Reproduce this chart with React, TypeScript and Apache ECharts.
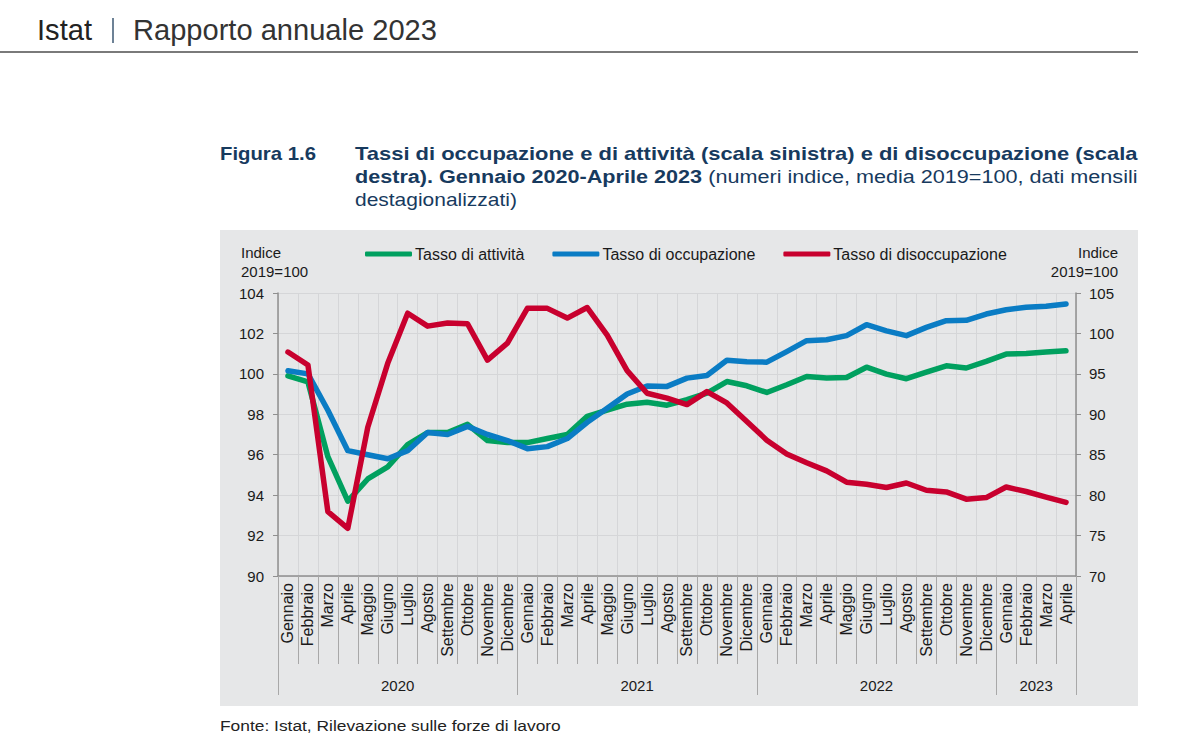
import React, { useEffect, useRef } from 'react';
import * as echarts from 'echarts';

// ---------- DATA ----------
const years = ['2020', '2021', '2022', '2023'];
const monthNames = ['Gennaio', 'Febbraio', 'Marzo', 'Aprile', 'Maggio', 'Giugno', 'Luglio', 'Agosto', 'Settembre', 'Ottobre', 'Novembre', 'Dicembre'];
const monthsPerYear = [12, 12, 12, 4];

// Tasso di attività (scala sinistra)
const tassoAttivita = [
  99.9, 99.6, 95.9, 93.7, 94.8, 95.4, 96.5, 97.1, 97.1, 97.5, 96.7, 96.6,
  96.6, 96.8, 97.0, 97.9, 98.2, 98.5, 98.6, 98.45, 98.72, 99.05, 99.62, 99.41,
  99.08, 99.46, 99.87, 99.79, 99.82, 100.33, 99.99, 99.76, 100.09, 100.4, 100.29, 100.62,
  100.98, 101.01, 101.08, 101.14,
];
// Tasso di occupazione (scala sinistra)
const tassoOccupazione = [
  100.15, 100.0, 98.2, 96.2, 96.0, 95.8, 96.2, 97.1, 97.0, 97.4, 97.0, 96.7,
  96.3, 96.4, 96.8, 97.6, 98.3, 99.0, 99.4, 99.38, 99.79, 99.92, 100.67, 100.6,
  100.58, 101.1, 101.64, 101.69, 101.89, 102.43, 102.13, 101.89, 102.3, 102.63, 102.65, 102.96,
  103.17, 103.29, 103.34, 103.46,
];
// Tasso di disoccupazione (scala destra)
const tassoDisoccupazione = [
  97.7, 96.1, 77.95, 75.9, 88.4, 96.3, 102.5, 100.9, 101.3, 101.2, 96.7, 98.8,
  103.1, 103.1, 101.9, 103.2, 99.8, 95.4, 92.6, 92.0, 91.2, 92.8, 91.4, 89.1,
  86.8, 85.1, 84.0, 83.0, 81.6, 81.35, 80.95, 81.5, 80.6, 80.4, 79.5, 79.7,
  81.0, 80.45, 79.75, 79.1,
];

const seriesNames = ['Tasso di attività', 'Tasso di occupazione', 'Tasso di disoccupazione'];
const seriesColors = ['#00a05f', '#0a7cc4', '#c8002e'];

const leftAxis = { min: 90, max: 104, interval: 2 };
const rightAxis = { min: 70, max: 105, interval: 5 };

const axisNameLines = ['Indice', '2019=100'];
const headerBrand = 'Istat';
const headerTitle = 'Rapporto annuale 2023';
const figureLabel = 'Figura 1.6';
const titleLine1 = 'Tassi di occupazione e di attività (scala sinistra) e di disoccupazione (scala';
const titleLine2Bold = 'destra). Gennaio 2020-Aprile 2023';
const titleLine2Normal = ' (numeri indice, media 2019=100, dati mensili';
const titleLine3 = 'destagionalizzati)';
const sourceNote = 'Fonte: Istat, Rilevazione sulle forze di lavoro';

// ---------- derived ----------
const categories: string[] = [];
const yearStartIdx: number[] = [];
const yearLabelAt: Record<number, string> = {};
years.forEach((y, yi) => {
  yearStartIdx.push(categories.length);
  yearLabelAt[categories.length + monthsPerYear[yi] / 2] = y;
  for (let m = 0; m < monthsPerYear[yi]; m++) categories.push(y + '|' + monthNames[m]);
});

const FONT = '"Liberation Sans", Arial, Helvetica, sans-serif';
const TEXT = '#1a1a1a';
const NAVY = '#173a5e';

let measureCtx: CanvasRenderingContext2D | null = null;
function textWidth(text: string, size: number, weight: string): number {
  if (!measureCtx) measureCtx = document.createElement('canvas').getContext('2d');
  if (!measureCtx) return text.length * size * 0.5;
  measureCtx.font = `${weight} ${size}px ${FONT}`;
  return measureCtx.measureText(text).width;
}

function fitText(text: string, size: number, weight: string, x: number, y: number, width: number, color: string) {
  const w = textWidth(text, size, weight);
  return {
    type: 'text', x, y, scaleX: width / w, silent: true,
    style: { text, x: 0, y: 0, fontSize: size, fontWeight: weight, fontFamily: FONT, fill: color, align: 'left', verticalAlign: 'middle' },
  };
}

function mixedLine(parts: { t: string; w: string }[], size: number, x0: number, x1: number, y: number, color: string) {
  const widths = parts.map((p) => textWidth(p.t, size, p.w));
  const total = widths.reduce((a, b) => a + b, 0);
  const sx = (x1 - x0) / total;
  let x = x0;
  return parts.map((p, i) => {
    const el = {
      type: 'text', x, y, scaleX: sx, silent: true,
      style: { text: p.t, x: 0, y: 0, fontSize: size, fontWeight: p.w, fontFamily: FONT, fill: color, align: 'left', verticalAlign: 'middle' },
    };
    x += widths[i] * sx;
    return el;
  });
}

function plainText(text: string, x: number, y: number, size: number, align: string, color: string) {
  return {
    type: 'text', x, y, silent: true,
    style: { text, x: 0, y: 0, fontSize: size, fontFamily: FONT, fill: color, align, verticalAlign: 'middle' },
  };
}

function buildOption() {
  const graphics: any[] = [
    { type: 'rect', z: -100, silent: true, shape: { x: 220, y: 230, width: 918, height: 476 }, style: { fill: '#e6e7e8' } },
    fitText(headerBrand, 29, 'normal', 37, 30, 55, '#222222'),
    { type: 'line', silent: true, shape: { x1: 113, y1: 18, x2: 113, y2: 43 }, style: { stroke: '#3d5873', lineWidth: 1.5 } },
    fitText(headerTitle, 29, 'normal', 133, 30, 304, '#333333'),
    { type: 'line', silent: true, shape: { x1: 0, y1: 52, x2: 1138, y2: 52 }, style: { stroke: '#7a7a7a', lineWidth: 2 } },
    fitText(figureLabel, 18, 'bold', 220, 154, 96, NAVY),
    ...mixedLine([{ t: titleLine1, w: 'bold' }], 18, 355, 1138, 154, NAVY),
    ...mixedLine([{ t: titleLine2Bold, w: 'bold' }, { t: titleLine2Normal, w: 'normal' }], 18, 355, 1138, 177, NAVY),
    fitText(titleLine3, 18, 'normal', 355, 200, 162, NAVY),
    plainText(axisNameLines[0], 241, 252, 15, 'left', TEXT),
    plainText(axisNameLines[1], 241, 271, 15, 'left', TEXT),
    plainText(axisNameLines[0], 1118, 252, 15, 'right', TEXT),
    plainText(axisNameLines[1], 1118, 271, 15, 'right', TEXT),
    fitText(sourceNote, 15, 'normal', 220, 725, 341, '#222222'),
  ];

  const values = [tassoAttivita, tassoOccupazione, tassoDisoccupazione];
  const axisGray = '#8f8f8f';
  const tickGray = '#a8a8a8';
  const gridColor = '#d5d6d8';

  return {
    animation: false,
    textStyle: { fontFamily: FONT },
    grid: { left: 278, right: 124, top: 293, bottom: 174, containLabel: false },
    legend: {
      left: 360, top: 241, itemWidth: 47, itemHeight: 5, itemGap: 28, icon: 'roundRect',
      textStyle: { fontSize: 16, color: TEXT, padding: [0, 0, 0, -2] },
      data: seriesNames,
    },
    xAxis: [
      {
        type: 'category', data: categories, boundaryGap: true, position: 'bottom',
        axisLine: { show: true, lineStyle: { color: axisGray, width: 1.5 } },
        axisTick: { show: true, interval: 0, length: 88, lineStyle: { color: tickGray, width: 1 } },
        axisLabel: { interval: 0, rotate: 90, margin: 7, fontSize: 16, color: TEXT, formatter: (v: string) => v.split('|')[1] },
        splitLine: { show: true, interval: 0, lineStyle: { color: gridColor, width: 1 } },
      },
      {
        type: 'category', data: categories, boundaryGap: true, position: 'bottom',
        axisLine: { show: false },
        axisTick: { show: true, interval: (i: number) => yearStartIdx.includes(i), length: 119, lineStyle: { color: tickGray, width: 1 } },
        axisLabel: {
          interval: 0, margin: 102, fontSize: 15, color: TEXT,
          formatter: (_v: string, i: number) => (yearLabelAt[i] ? `{y|${yearLabelAt[i]}}` : ''),
          rich: { y: { fontSize: 15, color: TEXT, padding: [0, 20, 0, 0] } },
        },
        splitLine: { show: false },
      },
    ],
    yAxis: [
      {
        type: 'value', position: 'left', ...leftAxis,
        axisLine: { show: true, lineStyle: { color: axisGray, width: 1.5 } },
        axisTick: { show: true, length: 5, lineStyle: { color: axisGray } },
        axisLabel: { margin: 14, fontSize: 15, color: TEXT },
        splitLine: { show: true, lineStyle: { color: gridColor, width: 1 } },
      },
      {
        type: 'value', position: 'right', ...rightAxis,
        axisLine: { show: true, lineStyle: { color: axisGray, width: 1.5 } },
        axisTick: { show: true, length: 5, lineStyle: { color: axisGray } },
        axisLabel: { margin: 13, fontSize: 15, color: TEXT },
        splitLine: { show: false },
      },
    ],
    series: seriesNames.map((name, i) => ({
      name, type: 'line', xAxisIndex: 0, yAxisIndex: i === 2 ? 1 : 0,
      data: values[i], symbol: 'none', smooth: false,
      itemStyle: { color: seriesColors[i] },
      lineStyle: { color: seriesColors[i], width: 5.5, cap: 'round', join: 'round' },
      z: 2 + i,
    })),
    graphic: graphics,
  };
}

export default function App() {
  const ref = useRef<HTMLDivElement>(null);
  useEffect(() => {
    if (!ref.current) return;
    const chart = echarts.init(ref.current, null, { renderer: 'svg' });
    chart.setOption(buildOption() as any);
    return () => chart.dispose();
  }, []);
  return <div ref={ref} style={{ position: 'fixed', left: 0, top: 0, width: 1200, height: 750, background: '#ffffff' }} />;
}
